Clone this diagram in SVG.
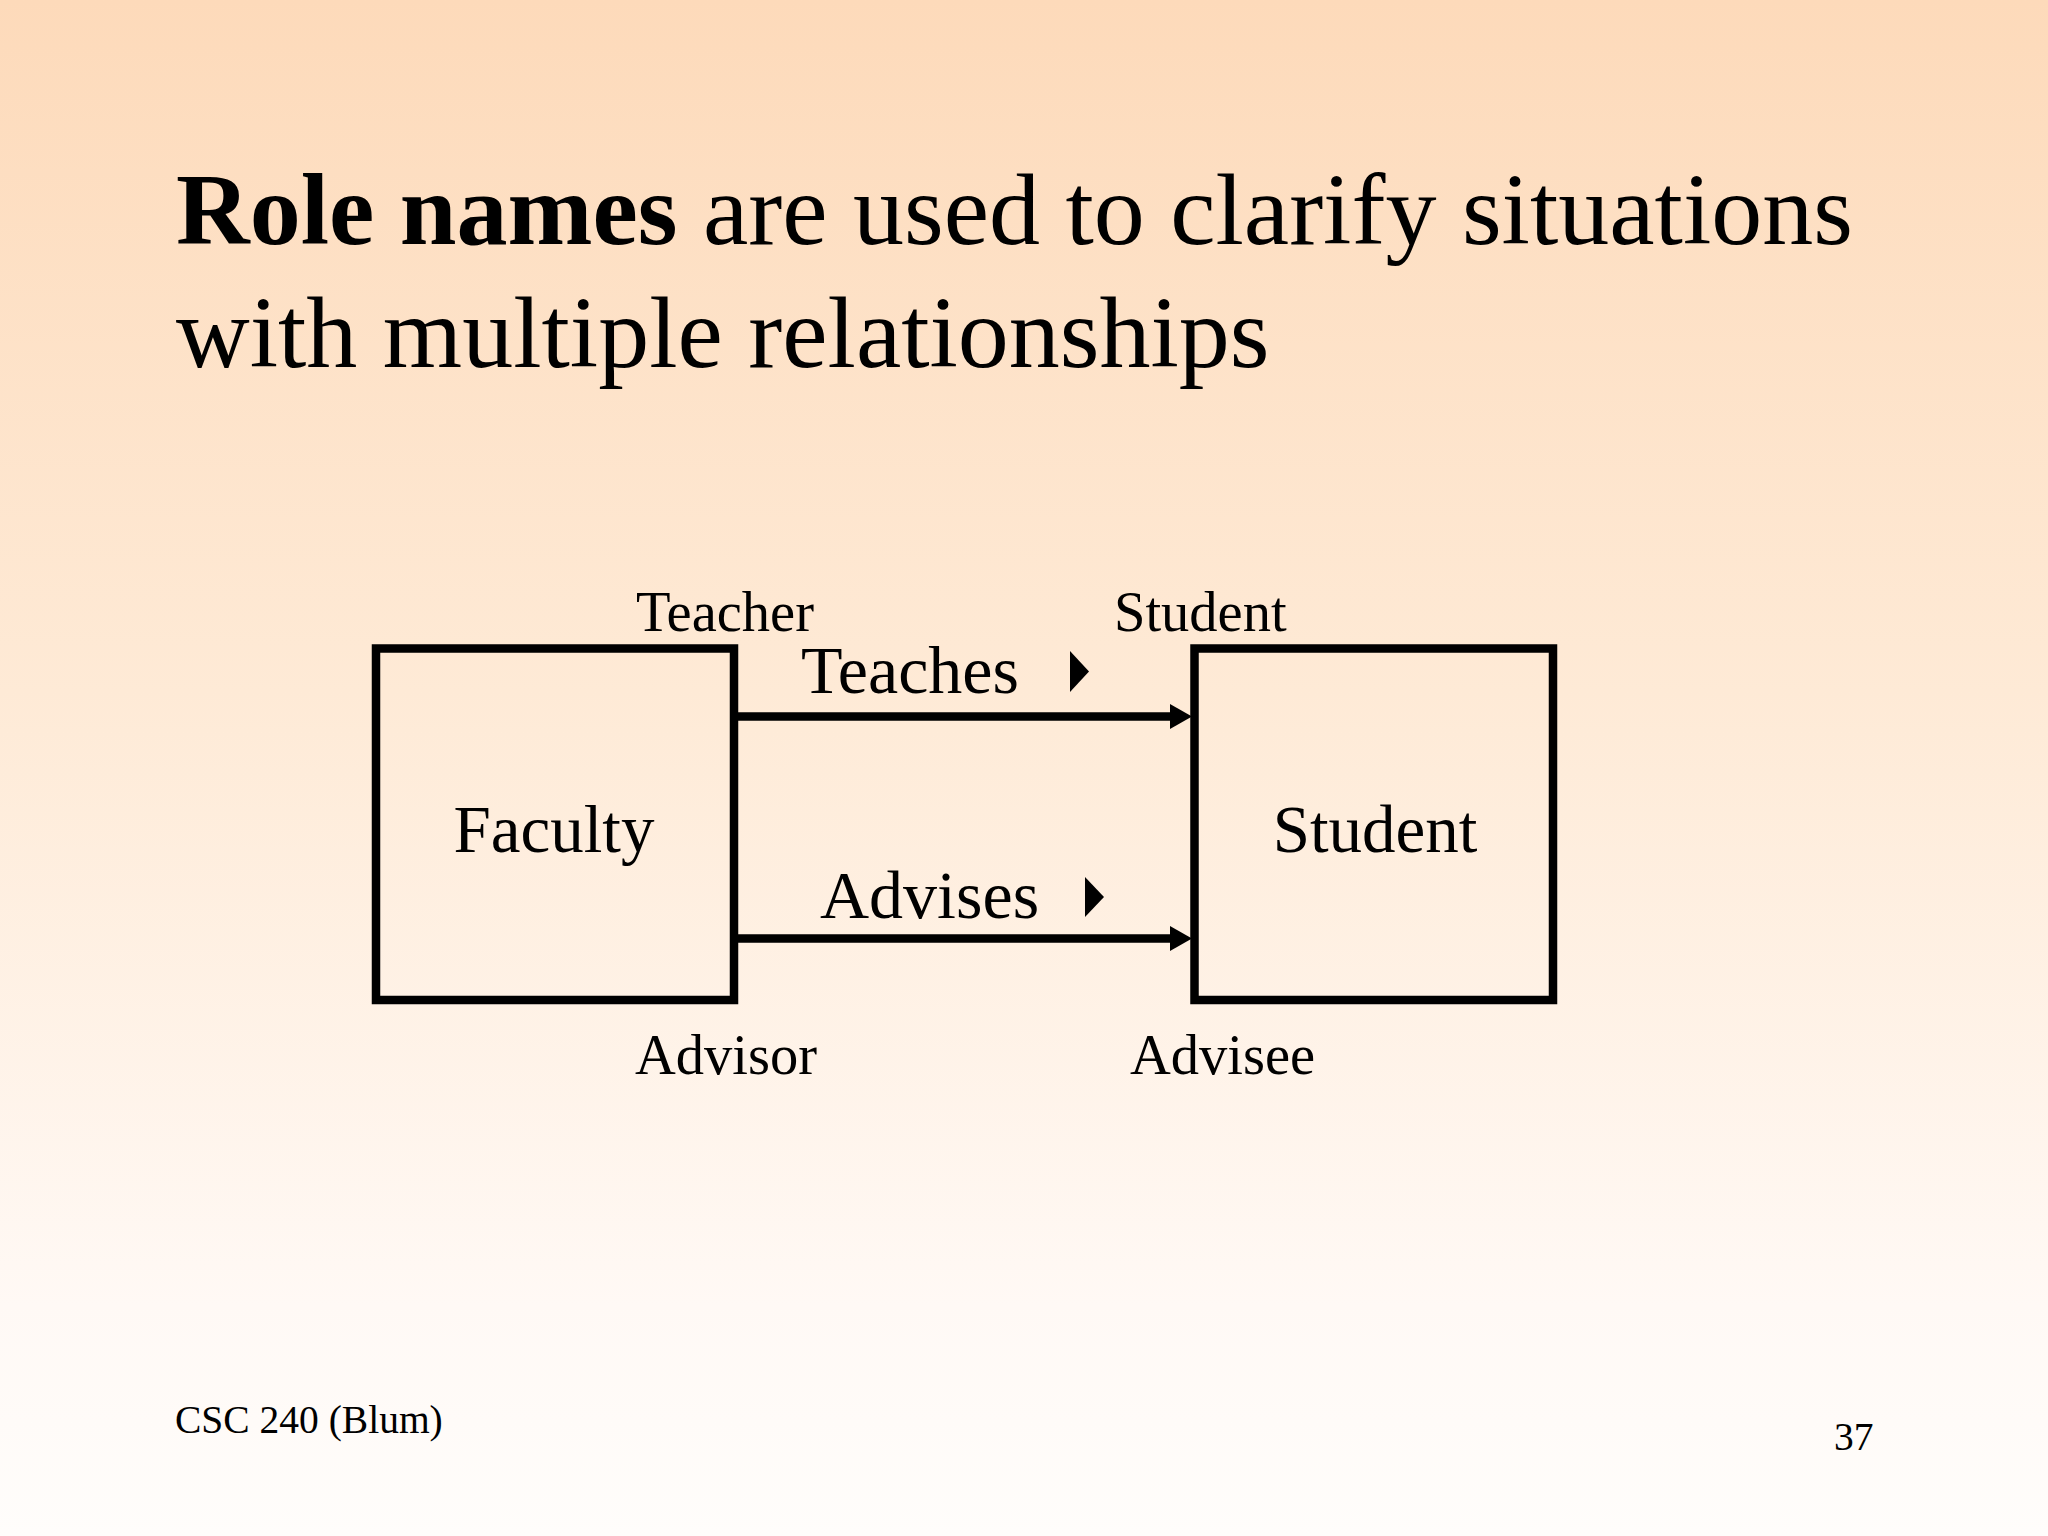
<svg xmlns="http://www.w3.org/2000/svg" width="2048" height="1536" viewBox="0 0 2048 1536">
<defs>
<linearGradient id="bg" x1="0" y1="0" x2="0" y2="1">
<stop offset="0" stop-color="#FDDABA"/>
<stop offset="0.45" stop-color="#FEEAD6"/>
<stop offset="0.85" stop-color="#FFF9F5"/>
<stop offset="1" stop-color="#FFFDFB"/>
</linearGradient>
<marker id="arrow" markerUnits="userSpaceOnUse" viewBox="0 0 22 25" markerWidth="22" markerHeight="25" refX="0" refY="12.5" orient="auto">
<path d="M0,0 L22,12.5 L0,25 z" fill="#000"/>
</marker>
<style>
text { font-family: "Liberation Serif", "Times New Roman", serif; fill: #000; }
.title { font-size: 102px; }
.node { fill: none; stroke: #000; stroke-width: 8.5; }
.name { font-size: 67px; text-anchor: middle; }
.rel { font-size: 68px; }
.role { font-size: 56.5px; }
.foot { font-size: 39.5px; }
.conn { stroke: #000; stroke-width: 8.5; fill: none; }
</style>
</defs>
<rect x="0" y="0" width="2048" height="1536" fill="url(#bg)"/>
<g id="title">
<text class="title" x="176" y="244"><tspan font-weight="bold">Role names</tspan> are used to clarify situations</text>
<text class="title" x="176" y="367">with multiple relationships</text>
</g>
<g id="faculty">
<rect class="node" x="376" y="648.5" width="358" height="351.5"/>
<text class="name" x="554" y="852">Faculty</text>
</g>
<g id="student">
<rect class="node" x="1194.5" y="648.5" width="358.5" height="351.5"/>
<text class="name" x="1375" y="852">Student</text>
</g>
<g id="connectors">
<g id="teaches">
<line class="conn" x1="738" y1="716.5" x2="1170" y2="716.5" marker-end="url(#arrow)"/>
<text class="rel" x="801" y="693">Teaches</text>
<polygon points="1070,651 1089,671.5 1070,692" fill="#000"/>
<text class="role" x="636" y="631" font-size="57.5">Teacher</text>
<text class="role" x="1114" y="631">Student</text>
</g>
<g id="advises">
<line class="conn" x1="738" y1="938.5" x2="1170" y2="938.5" marker-end="url(#arrow)"/>
<text class="rel" x="820" y="918">Advises</text>
<polygon points="1085,877 1104,897 1085,917" fill="#000"/>
<text class="role" x="635" y="1074">Advisor</text>
<text class="role" x="1130" y="1074">Advisee</text>
</g>
</g>
<g id="footer">
<text class="foot" x="175" y="1433">CSC 240 (Blum)</text>
<text class="foot" x="1834" y="1450">37</text>
</g>
</svg>
